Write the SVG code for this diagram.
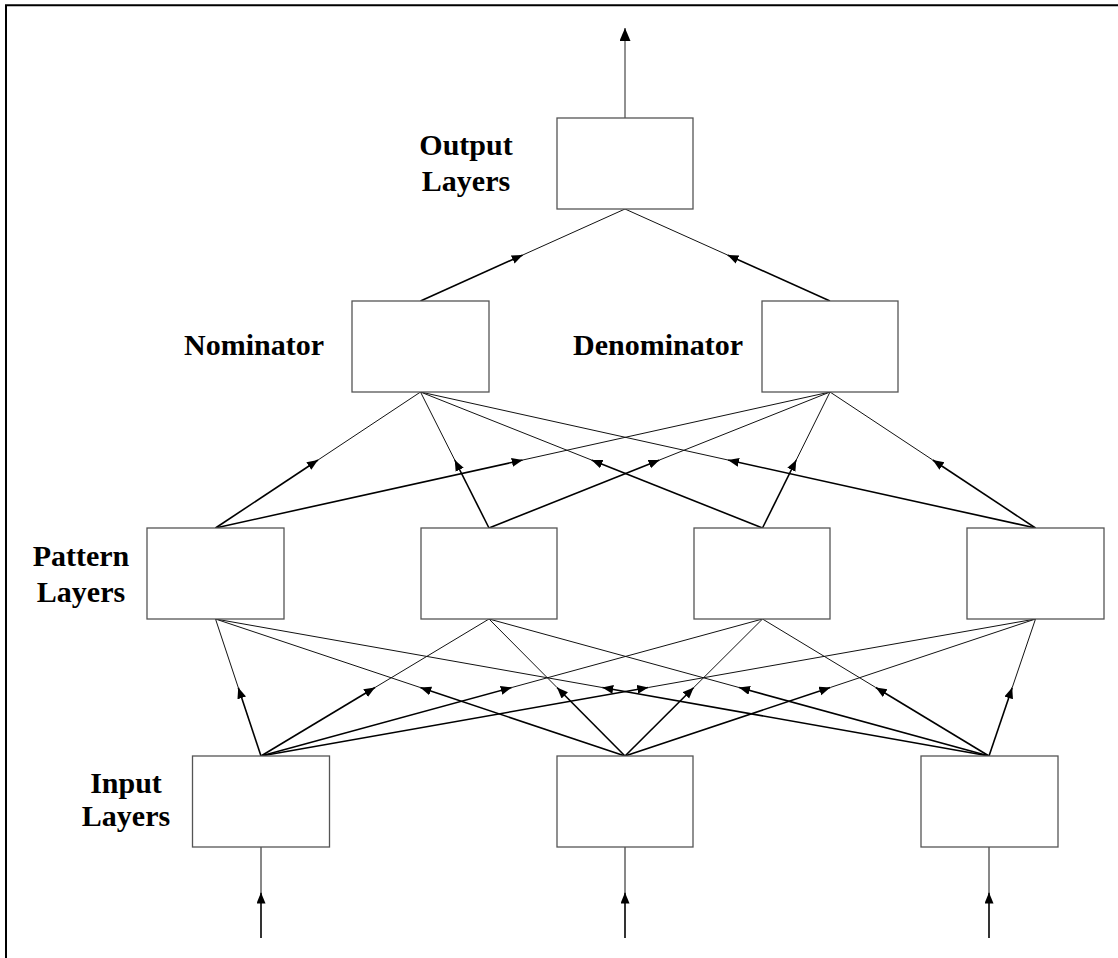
<svg xmlns="http://www.w3.org/2000/svg" width="1118" height="958" viewBox="0 0 1118 958">
  <style>
    .box { fill: #fff; stroke: #555; stroke-width: 1.3; }
    .lbl { font-family: "Liberation Serif", "Times New Roman", serif; font-weight: bold; font-size: 30px; fill: #000; text-anchor: middle; }
    .tail { fill: none; stroke: #000; stroke-width: 1.6; marker-end: url(#head); }
    .lead { fill: none; stroke: #111; stroke-width: 1; }
    .frame { fill: none; stroke: #000; stroke-width: 2; }
  </style>
  <defs>
    <marker id="head" markerUnits="userSpaceOnUse" markerWidth="12" markerHeight="10" refX="11" refY="4.5" orient="auto">
      <path d="M0,0 L11,4.5 L0,9 z" fill="#000"/>
    </marker>
    <marker id="bighead" markerUnits="userSpaceOnUse" markerWidth="14" markerHeight="12" refX="13" refY="5.5" orient="auto">
      <path d="M0,0 L13,5.5 L0,11 z" fill="#000"/>
    </marker>
  </defs>

  <rect x="0" y="0" width="1118" height="958" fill="#fff"/>
  <!-- page frame: top and left edges -->
  <path class="frame" d="M6,958 V5.3 H1118"/>

  <g id="connectors">
    <!-- network output -->
    <path fill="none" stroke="#222" stroke-width="1" marker-end="url(#bighead)" d="M625,118 L625,28"/>

    <!-- nominator / denominator to output -->
    <path class="tail" d="M420.5,301 L522.75,255"/><path class="lead" d="M522.75,255 L625,209"/>
    <path class="tail" d="M830,301 L727.5,255"/><path class="lead" d="M727.5,255 L625,209"/>

    <!-- pattern layer to summation -->
    <path class="tail" d="M215.5,528 L318,460"/><path class="lead" d="M318,460 L420.5,392"/>
    <path class="tail" d="M215.5,528 L522.75,460"/><path class="lead" d="M522.75,460 L830,392"/>
    <path class="tail" d="M489,528 L454.75,460"/><path class="lead" d="M454.75,460 L420.5,392"/>
    <path class="tail" d="M489,528 L659.5,460"/><path class="lead" d="M659.5,460 L830,392"/>
    <path class="tail" d="M762.5,528 L591.5,460"/><path class="lead" d="M591.5,460 L420.5,392"/>
    <path class="tail" d="M762.5,528 L796.25,460"/><path class="lead" d="M796.25,460 L830,392"/>
    <path class="tail" d="M1035.5,528 L728,460"/><path class="lead" d="M728,460 L420.5,392"/>
    <path class="tail" d="M1035.5,528 L932.75,460"/><path class="lead" d="M932.75,460 L830,392"/>

    <!-- input layer to pattern layer -->
    <path class="tail" d="M261,756 L238.25,687.5"/><path class="lead" d="M238.25,687.5 L215.5,619"/>
    <path class="tail" d="M261,756 L375,687.5"/><path class="lead" d="M375,687.5 L489,619"/>
    <path class="tail" d="M261,756 L511.75,687.5"/><path class="lead" d="M511.75,687.5 L762.5,619"/>
    <path class="tail" d="M261,756 L648.25,687.5"/><path class="lead" d="M648.25,687.5 L1035.5,619"/>

    <path class="tail" d="M625,756 L420.25,687.5"/><path class="lead" d="M420.25,687.5 L215.5,619"/>
    <path class="tail" d="M625,756 L557,687.5"/><path class="lead" d="M557,687.5 L489,619"/>
    <path class="tail" d="M625,756 L693.75,687.5"/><path class="lead" d="M693.75,687.5 L762.5,619"/>
    <path class="tail" d="M625,756 L830.25,687.5"/><path class="lead" d="M830.25,687.5 L1035.5,619"/>

    <path class="tail" d="M989,756 L602.25,687.5"/><path class="lead" d="M602.25,687.5 L215.5,619"/>
    <path class="tail" d="M989,756 L739,687.5"/><path class="lead" d="M739,687.5 L489,619"/>
    <path class="tail" d="M989,756 L875.75,687.5"/><path class="lead" d="M875.75,687.5 L762.5,619"/>
    <path class="tail" d="M989,756 L1012.25,687.5"/><path class="lead" d="M1012.25,687.5 L1035.5,619"/>

    <!-- external inputs -->
    <path class="tail" d="M261,938 L261,892.5"/><path class="lead" d="M261,892.5 L261,847"/>
    <path class="tail" d="M625,938 L625,892.5"/><path class="lead" d="M625,892.5 L625,847"/>
    <path class="tail" d="M989,938 L989,892.5"/><path class="lead" d="M989,892.5 L989,847"/>
  </g>

  <g id="output">
    <rect class="box" x="557" y="118" width="136" height="91"/>
    <text class="lbl" x="466" y="155">Output</text>
    <text class="lbl" x="466" y="191">Layers</text>
  </g>

  <g id="nominator">
    <rect class="box" x="352" y="301" width="137" height="91"/>
    <text class="lbl" x="254" y="355">Nominator</text>
  </g>

  <g id="denominator">
    <rect class="box" x="762" y="301" width="136" height="91"/>
    <text class="lbl" x="658" y="355">Denominator</text>
  </g>

  <g id="pattern-1">
    <rect class="box" x="147" y="528" width="137" height="91"/>
    <text class="lbl" x="81" y="566">Pattern</text>
    <text class="lbl" x="81" y="602">Layers</text>
  </g>
  <g id="pattern-2">
    <rect class="box" x="421" y="528" width="136" height="91"/>
  </g>
  <g id="pattern-3">
    <rect class="box" x="694" y="528" width="136" height="91"/>
  </g>
  <g id="pattern-4">
    <rect class="box" x="967" y="528" width="137" height="91"/>
  </g>

  <g id="input-1">
    <rect class="box" x="192.5" y="756" width="137" height="91"/>
    <text class="lbl" x="126" y="793">Input</text>
    <text class="lbl" x="126" y="826">Layers</text>
  </g>
  <g id="input-2">
    <rect class="box" x="557" y="756" width="136" height="91"/>
  </g>
  <g id="input-3">
    <rect class="box" x="921" y="756" width="137" height="91"/>
  </g>
</svg>
